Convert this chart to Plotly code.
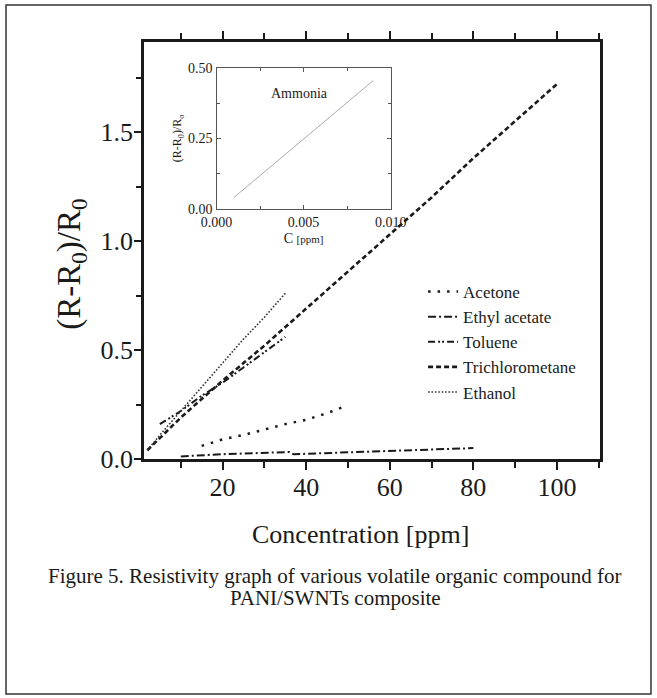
import plotly.graph_objects as go

# ---------------- data ----------------
acetone_x = [15, 20, 25, 30, 35, 40, 45, 49]
acetone_y = [0.06, 0.09, 0.11, 0.135, 0.16, 0.18, 0.21, 0.24]

ethyl_acetate_x = [10, 15, 20, 25, 30, 36, 37, 45, 50, 60, 70, 80]
ethyl_acetate_y = [0.012, 0.018, 0.022, 0.025, 0.028, 0.032, 0.022, 0.027, 0.03, 0.036, 0.042, 0.05]

toluene_x = [5, 10, 15, 20, 25, 30, 35]
toluene_y = [0.16, 0.22, 0.29, 0.35, 0.42, 0.49, 0.56]

trichloro_x = [2, 10, 20, 30, 40, 50, 60, 70, 80, 90, 100]
trichloro_y = [0.04, 0.19, 0.36, 0.52, 0.69, 0.86, 1.03, 1.2, 1.38, 1.55, 1.72]

ethanol_x = [2, 5, 10, 15, 20, 25, 30, 35]
ethanol_y = [0.04, 0.11, 0.22, 0.33, 0.44, 0.55, 0.65, 0.76]

ammonia_x = [0.001, 0.009]
ammonia_y = [0.04, 0.455]

x_ticks = [20, 40, 60, 80, 100]
y_ticks = [0.0, 0.5, 1.0, 1.5]
y_tick_labels = ["0.0", "0.5", "1.0", "1.5"]
inset_x_ticks = [0.0, 0.005, 0.010]
inset_x_labels = ["0.000", "0.005", "0.010"]
inset_y_ticks = [0.0, 0.25, 0.5]
inset_y_labels = ["0.00", "0.25", "0.50"]

FONT = "Liberation Serif, 'Times New Roman', Times, serif"
INK = "#1a1a1a"

fig = go.Figure()

fig.add_trace(go.Scatter(x=acetone_x, y=acetone_y, mode="lines", name="Acetone",
                         line=dict(color=INK, width=2.5, dash="2.5px,7px")))
fig.add_trace(go.Scatter(x=ethyl_acetate_x, y=ethyl_acetate_y, mode="lines", name="Ethyl acetate",
                         line=dict(color=INK, width=2, dash="8px,3px,2px,3px")))
fig.add_trace(go.Scatter(x=toluene_x, y=toluene_y, mode="lines", name="Toluene",
                         line=dict(color=INK, width=2, dash="7px,3px,2px,2px,2px,3px")))
fig.add_trace(go.Scatter(x=trichloro_x, y=trichloro_y, mode="lines", name="Trichlorometane",
                         line=dict(color=INK, width=2.6, dash="5px,3px")))
fig.add_trace(go.Scatter(x=ethanol_x, y=ethanol_y, mode="lines", name="Ethanol",
                         line=dict(color="#333", width=1.6, dash="1.6px,1.8px")))

fig.add_trace(go.Scatter(x=ammonia_x, y=ammonia_y, mode="lines", name="Ammonia",
                         xaxis="x2", yaxis="y2", showlegend=False,
                         line=dict(color="#aaaaaa", width=1)))

fig.update_layout(
    width=657, height=698,
    margin=dict(l=144, r=57, t=42, b=239),
    paper_bgcolor="white", plot_bgcolor="white",
    font=dict(family=FONT, color=INK),
    showlegend=True,
    legend=dict(x=0.612, y=0.4437, xanchor="left", yanchor="top",
                bgcolor="rgba(0,0,0,0)", font=dict(family=FONT, size=17, color=INK),
                itemwidth=30),
    xaxis=dict(range=[1.2, 110.3], showgrid=False, zeroline=False,
               showline=True, linewidth=2.5, linecolor=INK, mirror="ticks",
               ticks="outside", ticklen=8, tickwidth=2, tickcolor=INK,
               tickvals=x_ticks, ticktext=[str(v) for v in x_ticks], ticklabelstandoff=-5,
               tickfont=dict(family=FONT, size=26, color=INK),
               minor=dict(tickvals=[10, 30, 50, 70, 90, 110], ticks="outside",
                          ticklen=6, tickwidth=2, tickcolor=INK)),
    yaxis=dict(range=[0, 1.913], showgrid=False, zeroline=False,
               showline=True, linewidth=2.5, linecolor=INK, mirror=True,
               ticks="outside", ticklen=7, tickwidth=2, tickcolor=INK,
               tickvals=y_ticks, ticktext=y_tick_labels, ticklabelstandoff=-4,
               tickfont=dict(family=FONT, size=26, color=INK),
               minor=dict(tickvals=[0.25, 0.75, 1.25, 1.75], ticks="outside",
                          ticklen=5, tickwidth=2, tickcolor=INK)),
    xaxis2=dict(domain=[0.159, 0.541], anchor="y2", range=[0, 0.010],
                showgrid=False, zeroline=False, showline=True, linewidth=1.3,
                linecolor="#555", mirror="ticks", ticks="inside", ticklen=4,
                tickcolor="#555", tickvals=inset_x_ticks, ticktext=inset_x_labels,
                tickfont=dict(family=FONT, size=14, color=INK),
                minor=dict(tickvals=[0.0025, 0.0075], ticks="inside", ticklen=3, tickcolor="#555"),
                title=dict(text="C <span style='font-size:11px'>[ppm]</span>",
                           font=dict(family=FONT, size=14, color=INK), standoff=4)),
    yaxis2=dict(domain=[0.600, 0.938], anchor="x2", range=[0, 0.5],
                showgrid=False, zeroline=False, showline=True, linewidth=1.3,
                linecolor="#555", mirror="ticks", ticks="inside", ticklen=4,
                tickcolor="#555", tickvals=inset_y_ticks, ticktext=inset_y_labels,
                tickfont=dict(family=FONT, size=14, color=INK),
                minor=dict(tickvals=[0.125, 0.375], ticks="inside", ticklen=3, tickcolor="#555"),
                title=dict(text="(R-R<sub>0</sub>)/R<sub>o</sub>",
                           font=dict(family=FONT, size=12, color=INK), standoff=3)),
)

annotations = [
    dict(text="Ammonia", x=0.00478, y=0.41, xref="x2", yref="y2", showarrow=False,
         xanchor="center", yanchor="middle",
         font=dict(family=FONT, size=14, color=INK)),
    dict(text="Concentration [ppm]", x=0.474, y=-0.18, xref="paper", yref="paper",
         xanchor="center", yanchor="middle",
         showarrow=False, font=dict(family=FONT, size=26, color=INK)),
    dict(text="(R-R<sub>0</sub>)/R<sub>0</sub>", x=-0.158, y=0.468, xref="paper", yref="paper",
         xanchor="center", yanchor="middle",
         textangle=-90, showarrow=False, font=dict(family=FONT, size=33, color=INK)),
    dict(text="Figure 5. Resistivity graph of various volatile organic compound for",
         x=0.419, y=-0.2806, xref="paper", yref="paper", showarrow=False,
         xanchor="center", yanchor="middle",
         font=dict(family=FONT, size=21, color=INK)),
    dict(text="PANI/SWNTs composite", x=0.419, y=-0.3333, xref="paper", yref="paper",
         xanchor="center", yanchor="middle",
         showarrow=False, font=dict(family=FONT, size=21, color=INK)),
]
fig.update_layout(annotations=annotations)

# outer frame of the figure panel
fig.add_shape(type="rect", xref="paper", yref="paper",
              x0=-0.3026, x1=1.1118, y0=-0.5635, y1=1.0887,
              line=dict(color="#333", width=1.5), layer="below")

fig.write_html("out.html", config={"displayModeBar": False},
               post_script="document.body.style.margin='0';")
